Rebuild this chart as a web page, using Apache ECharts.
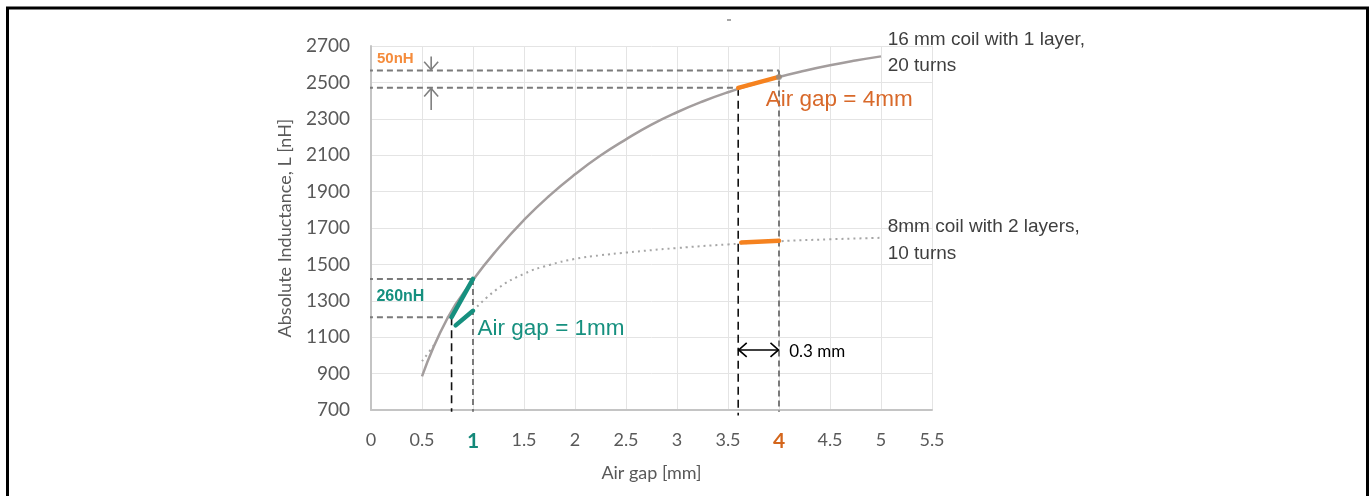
<!DOCTYPE html>
<html><head><meta charset="utf-8">
<script src="https://cdn.jsdelivr.net/npm/echarts@6/dist/echarts.min.js"></script>
<style>html,body{margin:0;padding:0;background:#fff}#c{width:1370px;height:496px}</style>
</head><body><div id="c"></div>
<script>
// ---- data ----
const xTicks = [0, 0.5, 1, 1.5, 2, 2.5, 3, 3.5, 4, 4.5, 5, 5.5];
const yTicks = [700, 900, 1100, 1300, 1500, 1700, 1900, 2100, 2300, 2500, 2700];

const gap16 = [0.5, 0.75, 1.0, 1.25, 1.5, 1.75, 2.0, 2.25, 2.5, 2.75, 3.0, 3.25, 3.5, 3.75, 4.0, 4.25, 4.5, 4.75, 5.0];
const coil16 = [885, 1205, 1414, 1590, 1744, 1878, 1995, 2098, 2187, 2268, 2336, 2395, 2446, 2490, 2530, 2564, 2594, 2620, 2643];

const gap8 = [0.5, 0.57, 0.64, 0.8, 1.0, 1.25, 1.5, 1.75, 2.0, 2.25, 2.5, 3.0, 3.5, 4.0, 4.5, 5.0];
const coil8 = [968, 1020, 1075, null, 1245, 1370, 1448, 1497, 1530, 1550, 1565, 1590, 1610, 1627, 1638, 1646];

// highlighted slopes
const teal16 = [[0.79, 1210], [1.0, 1420]];
const teal8 = [[0.83, 1165], [1.0, 1245]];
const orange16 = [[3.6, 2470], [4.0, 2530]];
const orange8 = [[3.63, 1620], [4.0, 1630]];

// reference dashed lines
const grayDash = [
  [[-0.04, 2565], [4.0, 2565]],
  [[-0.04, 2470], [3.6, 2470]],
  [[-0.04, 1420], [1.0, 1420]],
  [[-0.04, 1210], [0.79, 1210]],
  [[1.0, 1420], [1.0, 690]],
  [[4.0, 2565], [4.0, 690]]
];
const blackDash = [
  [[0.79, 1210], [0.79, 690]],
  [[3.6, 2470], [3.6, 670]]
];

// arrows: [x1, y1, x2, y2, bothEnds]
const grayArrows = [[0.59, 2642, 0.59, 2570, 0], [0.59, 2348, 0.59, 2466, 0]];
const blackArrows = [[3.605, 1030, 3.995, 1030, 1]];

// annotation texts
const noteText = ['16 mm coil with 1 layer,', '20 turns', '8mm coil with 2 layers,', '10 turns',
  'Air gap = 4mm', 'Air gap = 1mm', '260nH', '50nH', '0.3 mm'];
const notePos = [[5.065, 2733], [5.065, 2590], [5.065, 1705], [5.065, 1557],
  [3.87, 2403], [1.045, 1145], [0.053, 1322], [0.059, 2629], [4.1, 1024]];

// ---- styles ----
const TEAL = '#16907f', ORANGE = '#f5821f';
const noteStyle = [
  {fill: '#3f3f3f', fontSize: 19, fontFamily: 'Liberation Sans'},
  {fill: '#3f3f3f', fontSize: 19, fontFamily: 'Liberation Sans'},
  {fill: '#3f3f3f', fontSize: 19, fontFamily: 'Liberation Sans'},
  {fill: '#3f3f3f', fontSize: 19, fontFamily: 'Liberation Sans'},
  {fill: '#d8692a', fontSize: 22.5, fontFamily: 'Liberation Sans'},
  {fill: TEAL, fontSize: 22.5, fontFamily: 'Liberation Sans'},
  {fill: TEAL, fontSize: 16, fontFamily: 'Liberation Sans', fontWeight: 'bold'},
  {fill: '#f58c3c', fontSize: 15, fontFamily: 'Liberation Sans', fontWeight: 'bold'},
  {fill: '#000', fontSize: 17, fontFamily: 'Lato'}
];

function zip(xs, ys) { return xs.map((x, i) => [x, ys[i]]); }

function arrowRender(params, api) {
  const p1 = api.coord([api.value(0), api.value(1)]);
  const p2 = api.coord([api.value(2), api.value(3)]);
  const both = api.value(4);
  const color = api.visual('color');
  const dx = p2[0] - p1[0], dy = p2[1] - p1[1];
  const len = Math.hypot(dx, dy);
  const ux = dx / len, uy = dy / len, nx = -uy, ny = ux;
  const L = 8, W = 7;
  const head = (P, sx, sy) => ({
    type: 'polyline',
    shape: {points: [[P[0] - sx * L + nx * W, P[1] - sy * L + ny * W], P, [P[0] - sx * L - nx * W, P[1] - sy * L - ny * W]]},
    style: {stroke: color, lineWidth: 1.6, fill: null}
  });
  const children = [
    {type: 'line', shape: {x1: p1[0], y1: p1[1], x2: p2[0], y2: p2[1]}, style: {stroke: color, lineWidth: 1.6}},
    head(p2, ux, uy)
  ];
  if (both) children.push(head(p1, -ux, -uy));
  return {type: 'group', children};
}

function noteRender(params, api) {
  const i = api.value(2);
  const p = api.coord([api.value(0), api.value(1)]);
  return {
    type: 'text', x: p[0], y: p[1],
    style: Object.assign({text: noteText[i], align: 'left', verticalAlign: 'middle'}, noteStyle[i])
  };
}

const series = [];
grayDash.forEach(seg => series.push({
  type: 'line', data: seg, clip: false, symbol: 'none', silent: true,
  lineStyle: {color: '#7a7a7a', width: 2, type: [6, 4]}, z: 3
}));
blackDash.forEach(seg => series.push({
  type: 'line', data: seg, clip: false, symbol: 'none', silent: true,
  lineStyle: {color: '#111', width: 1.6, type: [8, 5]}, z: 3
}));
series.push({
  name: '8mm coil', type: 'line', data: zip(gap8, coil8), smooth: 0.5, symbol: 'none',
  connectNulls: false, lineStyle: {color: '#a6a6a6', width: 2, type: [2, 4]}, z: 4
});
series.push({
  name: '16mm coil', type: 'line', data: zip(gap16, coil16), smooth: 0.5, symbol: 'none',
  lineStyle: {color: '#a39d9d', width: 2.5}, z: 5
});
[[teal16, TEAL], [teal8, TEAL], [orange16, ORANGE], [orange8, ORANGE]].forEach(([d, c]) => series.push({
  type: 'line', data: d, symbol: 'none', lineStyle: {color: c, width: 4.5, cap: 'round'}, z: 6
}));
series.push({
  type: 'scatter', data: [[4.0, 2530]], symbolSize: 6, itemStyle: {color: '#8c8c8c'}, z: 7
});
series.push({type: 'custom', data: grayArrows, renderItem: arrowRender, itemStyle: {color: '#7f7f7f'}, clip: false, z: 8});
series.push({type: 'custom', data: blackArrows, renderItem: arrowRender, itemStyle: {color: '#000'}, clip: false, z: 8});
series.push({type: 'custom', data: notePos.map((p, i) => [p[0], p[1], i]), renderItem: noteRender, clip: false, z: 9});

const chart = echarts.init(document.getElementById('c'), null, {renderer: 'canvas'});
chart.setOption({
  animation: false,
  backgroundColor: '#fff',
  grid: {left: 371, top: 46, width: 561, height: 364, containLabel: false},
  xAxis: {
    type: 'value', min: xTicks[0], max: xTicks[xTicks.length - 1], interval: 0.5,
    name: 'Air gap [mm]', nameLocation: 'middle', nameGap: 54,
    nameTextStyle: {color: '#595959', fontSize: 18, fontFamily: 'Lato'},
    axisLine: {show: true, lineStyle: {color: '#c4c4c4', width: 2}},
    axisTick: {show: false},
    splitLine: {show: true, lineStyle: {color: '#e4e4e4', width: 1}},
    axisLabel: {
      margin: 21, color: '#595959', fontSize: 18, fontFamily: 'Lato',
      formatter: v => v === 1 ? '{t|1}' : v === 4 ? '{o|4}' : String(v),
      rich: {
        t: {color: '#14897a', fontWeight: 'bold', fontSize: 21, fontFamily: 'Lato'},
        o: {color: '#d4661c', fontWeight: 'bold', fontSize: 21, fontFamily: 'Lato'}
      }
    }
  },
  yAxis: {
    type: 'value', min: yTicks[0], max: yTicks[yTicks.length - 1], interval: 200,
    name: 'Absolute Inductance, L [nH]', nameLocation: 'middle', nameGap: 77, nameRotate: 90,
    nameTextStyle: {color: '#595959', fontSize: 18, fontFamily: 'Lato'},
    axisLine: {show: true, lineStyle: {color: '#c4c4c4', width: 2}},
    axisTick: {show: false},
    splitLine: {show: true, lineStyle: {color: '#e4e4e4', width: 1}},
    axisLabel: {margin: 21, color: '#595959', fontSize: 19, fontFamily: 'Lato', formatter: v => String(v)}
  },
  graphic: [
    {type: 'polyline', shape: {points: [[7.5, 500], [7.5, 8], [1367.5, 8], [1367.5, 500]]},
      style: {stroke: '#000', lineWidth: 3, fill: null}, silent: true},
    {type: 'line', shape: {x1: 727, y1: 20, x2: 731, y2: 20}, style: {stroke: '#888', lineWidth: 1.5}, silent: true}
  ],
  series
});
</script></body></html>
